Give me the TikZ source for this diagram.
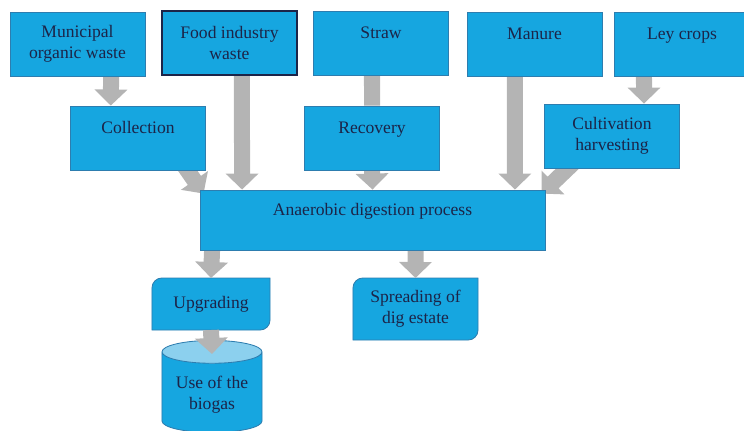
\documentclass[tikz,border=0pt]{standalone}
\usepackage{fontspec}
\setmainfont{Liberation Serif}
\usetikzlibrary{arrows.meta, positioning, shapes.geometric, backgrounds}

\definecolor{boxblue}{RGB}{22,166,224}
\definecolor{boxedge}{RGB}{45,125,175}
\definecolor{capblue}{RGB}{140,208,238}
\definecolor{flowgray}{RGB}{180,180,180}
\definecolor{labelnavy}{RGB}{28,36,72}

\begin{document}
\begin{tikzpicture}[
    x=0.025cm, y=0.025cm,
    block/.style={
        rectangle,
        draw=boxedge,
        line width=0.6pt,
        fill=boxblue,
        text=labelnavy,
        align=center,
        font=\fontsize{12.5}{15}\selectfont,
        minimum width=3.375cm,
        minimum height=1.6cm,
        inner sep=2pt
    },
    outlet/.style={block, draw=none, fill=none, outer sep=0pt},
    flow/.style={draw=flowgray, line width=0.4cm, -{Triangle[length=0.4cm, width=0.8cm]}},
    feed/.style={draw=flowgray, line width=0.4cm}
]
\useasboundingbox (0,0) rectangle (744,-430);

% feedstocks
\node[block] (municipal) at (77.5,-44) {Municipal\\organic waste};
\node[block, draw=labelnavy, line width=1.1pt] (food) at (229.5,-43) {Food industry\\waste};
\node[block] (straw) at (381,-43.5) {Straw\\~};
\node[block] (manure) at (534.5,-44) {Manure\\~};
\node[block] (ley) at (682,-44) {Ley crops\\~};

% pre-treatment
\node[block] (collection) at (138,-138) {Collection\\~};
\node[block] (recovery) at (372,-138) {Recovery\\~};
\node[block] (cultivation) at (612,-136) {Cultivation\\harvesting};

\node[block, minimum width=8.625cm, minimum height=1.5cm] (digestion) at (372.5,-220) {Anaerobic digestion process\\~};

% products
\node[outlet, minimum width=2.95cm, minimum height=1.3cm] (upgrading) at (211,-304) {Upgrading};
\node[outlet, minimum width=3.125cm, minimum height=1.55cm] (spreading) at (415.5,-309) {Spreading of\\dig estate};
\node[cylinder, shape border rotate=90, aspect=0.28, draw=boxedge, line width=0.6pt,
      cylinder uses custom fill, cylinder body fill=boxblue, cylinder end fill=capblue,
      text=labelnavy, align=center, font=\fontsize{12.5}{15}\selectfont,
      minimum width=2.5cm, minimum height=2.3cm, anchor=north] (use) at (212,-340) {Use of the\\biogas};

\begin{scope}[on background layer]
% only two corners rounded
\foreach \n in {upgrading, spreading} {
    \draw[draw=boxedge, line width=0.6pt, fill=boxblue]
        (\n.north east) -- ([yshift=7pt]\n.south east)
        arc[start angle=0, end angle=-90, radius=7pt] -- (\n.south west)
        -- ([yshift=-7pt]\n.north west)
        arc[start angle=180, end angle=90, radius=7pt] -- cycle;
}

\draw[flow] ([xshift=0.84cm]municipal.south) -- ([xshift=-0.68cm]collection.north);
\draw[flow] ([xshift=0.31cm]food.south) -- ([xshift=-3.26cm]digestion.north);
\draw[feed] ([xshift=-0.225cm]straw.south) -- (recovery.north);
\draw[flow] (recovery.south) -- (digestion.north);
\draw[flow] ([xshift=-0.49cm]manure.south) -- ([xshift=3.56cm]digestion.north);
\draw[flow] ([xshift=-0.95cm]ley.south) -- ([xshift=0.8cm]cultivation.north);
\draw[flow] ([xshift=-0.6cm, yshift=0.2cm]collection.south east) -- ([xshift=0.1cm, yshift=-0.1cm]digestion.north west);
\draw[flow] ([xshift=0.8cm, yshift=0.2cm]cultivation.south west) -- ([xshift=-0.1cm, yshift=-0.1cm]digestion.north east);
\draw[flow] ([xshift=-4.01cm]digestion.south) -- (upgrading.north);
\draw[flow] ([xshift=1.075cm]digestion.south) -- (spreading.north);
\end{scope}

\draw[flow] (upgrading.south) -- ([yshift=-0.35cm]use.north);

\end{tikzpicture}
\end{document}
